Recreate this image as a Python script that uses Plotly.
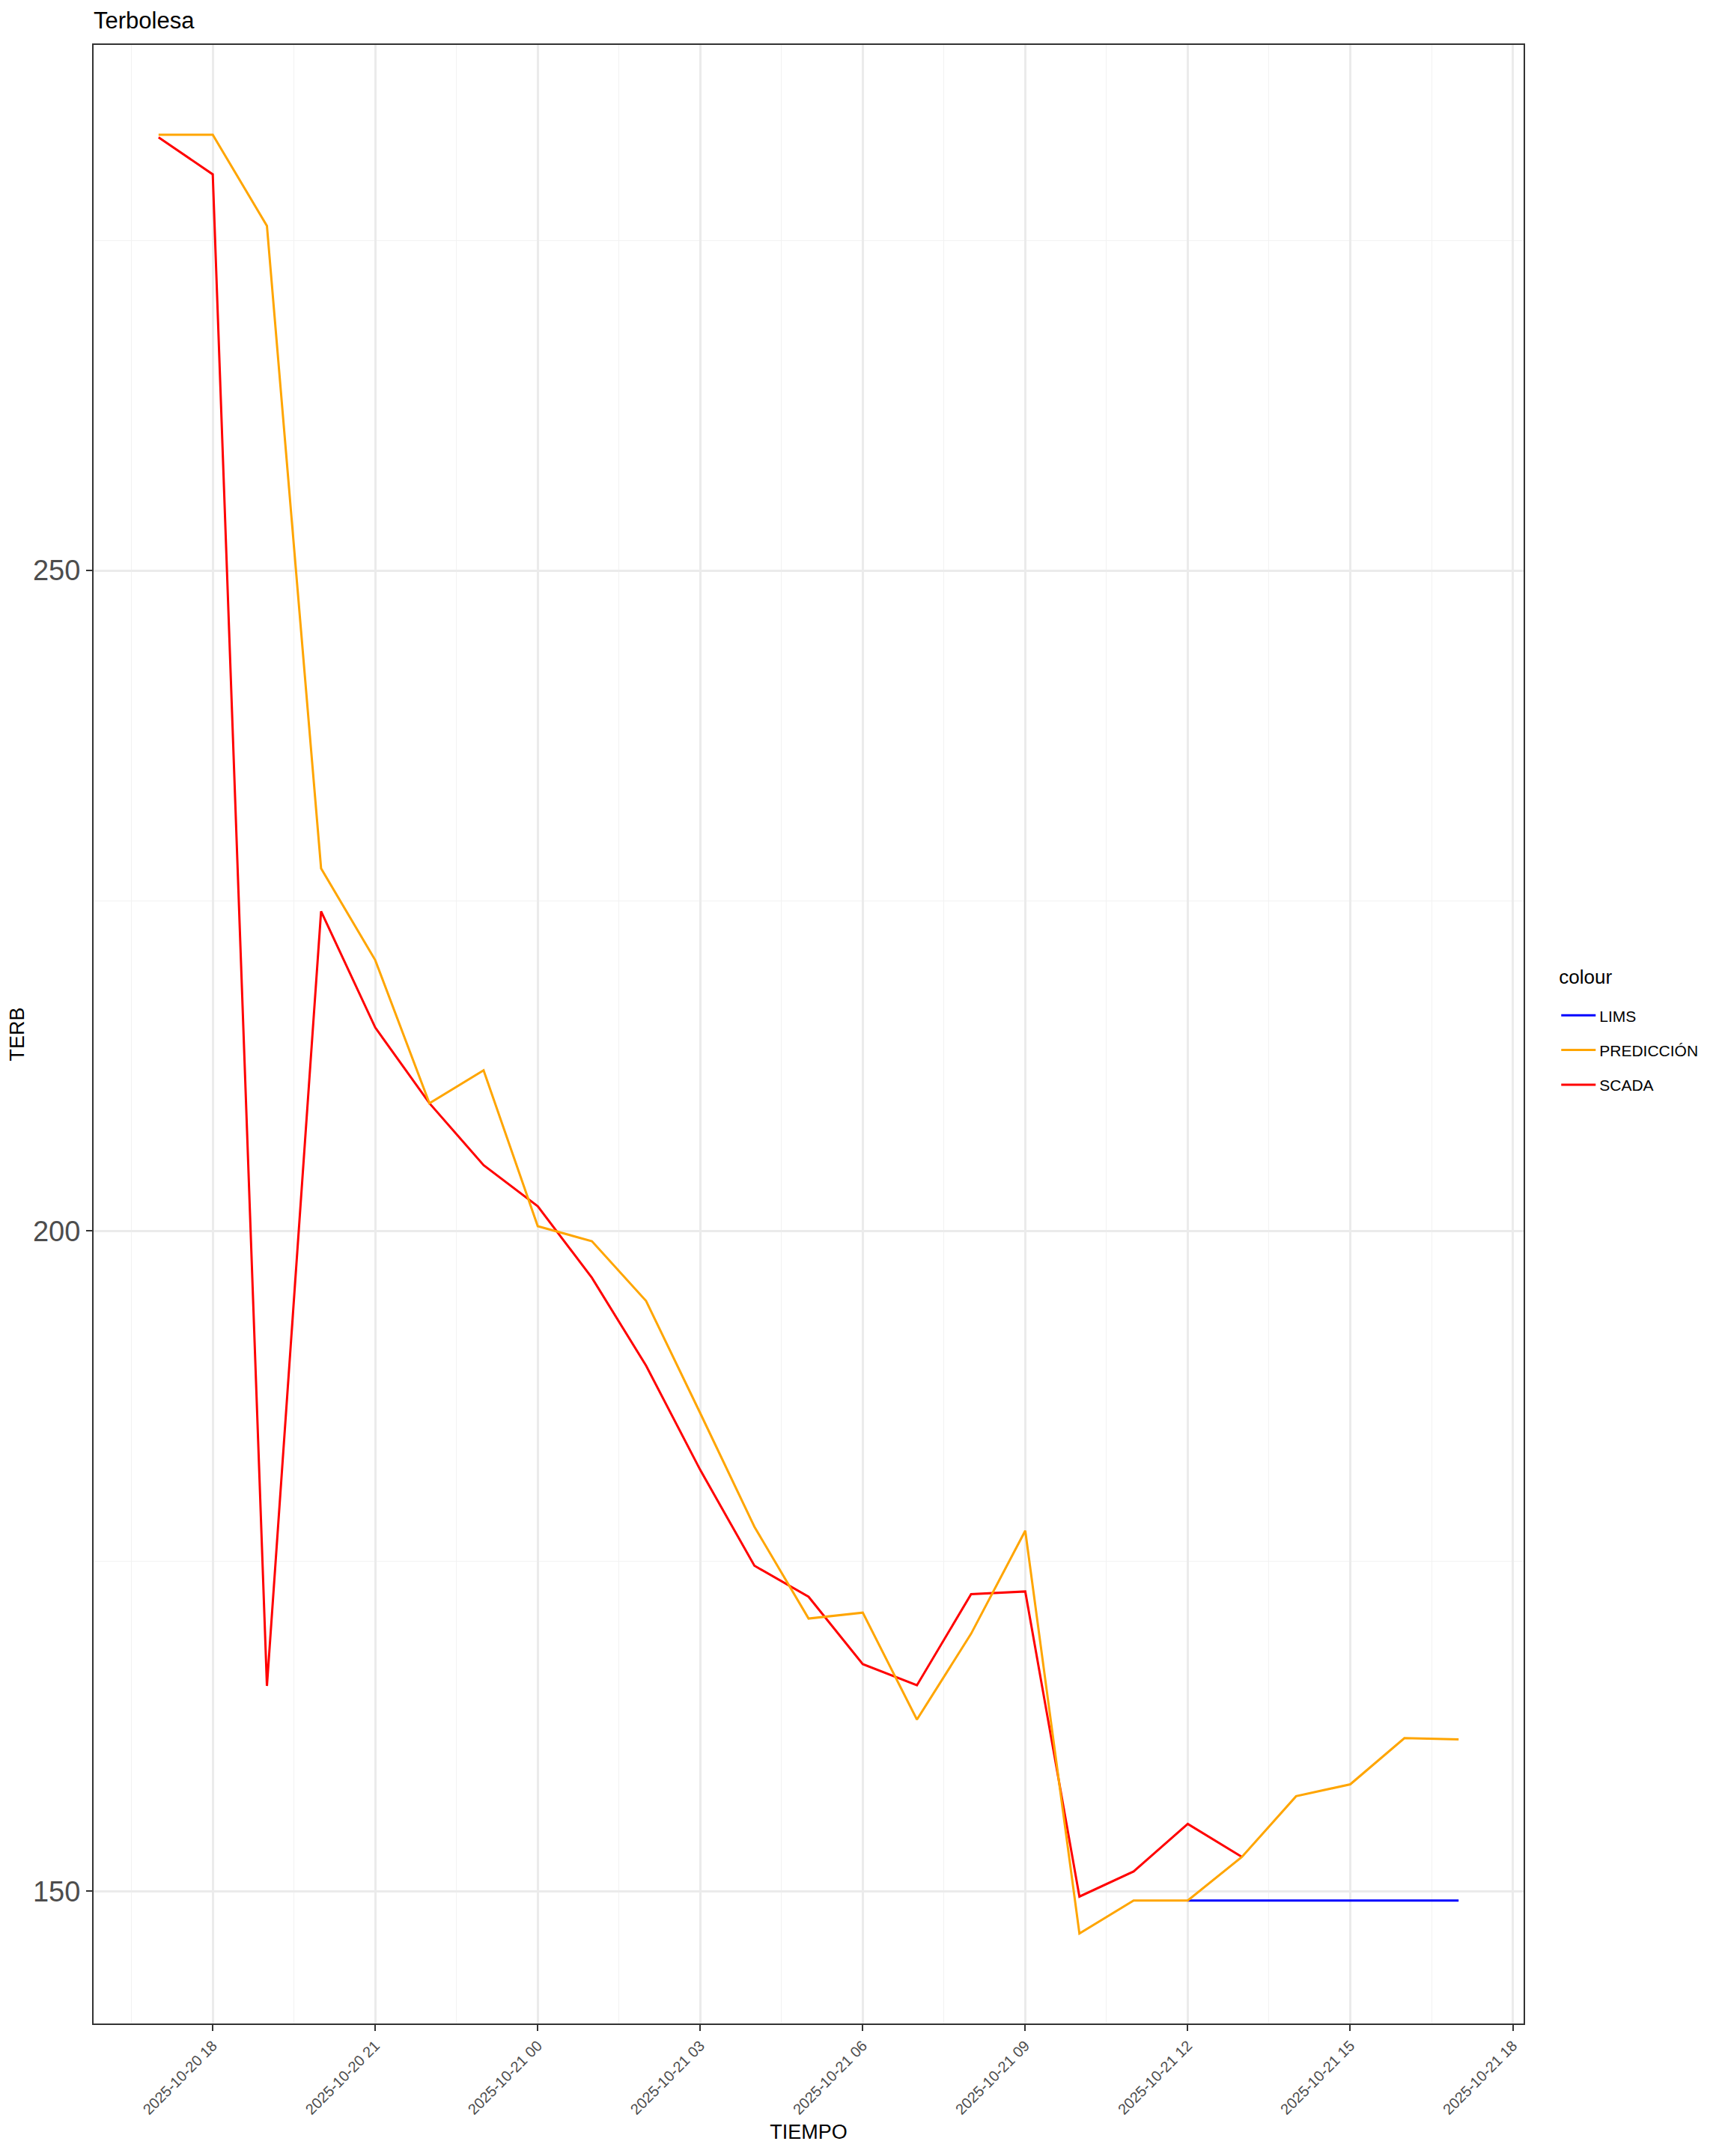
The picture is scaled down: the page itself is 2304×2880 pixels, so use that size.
import plotly.graph_objects as go

# ---- data ----
times = [
    "2025-10-20 17:00", "2025-10-20 18:00", "2025-10-20 19:00", "2025-10-20 20:00",
    "2025-10-20 21:00", "2025-10-20 22:00", "2025-10-20 23:00", "2025-10-21 00:00",
    "2025-10-21 01:00", "2025-10-21 02:00", "2025-10-21 03:00", "2025-10-21 04:00",
    "2025-10-21 05:00", "2025-10-21 06:00", "2025-10-21 07:00", "2025-10-21 08:00",
    "2025-10-21 09:00", "2025-10-21 10:00", "2025-10-21 11:00", "2025-10-21 12:00",
    "2025-10-21 13:00", "2025-10-21 14:00", "2025-10-21 15:00", "2025-10-21 16:00",
    "2025-10-21 17:00",
]
prediccion = [283.0, 283.0, 276.1, 227.45, 220.5, 209.67, 212.16, 200.36, 199.22, 194.7,
              186.2, 177.6, 170.65, 171.1, 163.0, 169.5, 177.3, 146.8, 149.3, 149.3,
              152.6, 157.2, 158.1, 161.6, 161.5]
scada_times = times[:21]
scada = [282.8, 280.0, 165.55, 224.2, 215.4, 209.67, 204.98, 201.87, 196.45, 189.8,
         181.9, 174.65, 172.3, 167.2, 165.6, 172.5, 172.7, 149.6, 151.5, 155.1, 152.6]
lims_times = times[19:]
lims = [149.3, 149.3, 149.3, 149.3, 149.3, 149.3]

y_ticks = [150, 200, 250]
x_range = ["2025-10-20 15:48", "2025-10-21 18:12"]
y_range = [139.99, 289.8]

FONT = "Liberation Sans, Arial, sans-serif"
W, H = 2304, 2880
OFF = 8  # page body margin
L, R, T, B = 125 - OFF, 269 + OFF, 60 - OFF, 177 + OFF

fig = go.Figure()
fig.add_trace(go.Scatter(x=lims_times, y=lims, mode="lines", name="LIMS",
                         line=dict(color="#0000FF", width=3), legendrank=1,
                         legendgroup="a"))
fig.add_trace(go.Scatter(x=scada_times, y=scada, mode="lines", name="SCADA",
                         line=dict(color="#FF0000", width=3), legendrank=3,
                         legendgroup="c"))
fig.add_trace(go.Scatter(x=times, y=prediccion, mode="lines", name="PREDICCIÓN",
                         line=dict(color="#FFA500", width=3), legendrank=2,
                         legendgroup="b"))

fig.update_layout(
    width=W, height=H,
    margin=dict(l=L, r=R, t=T, b=B, autoexpand=False),
    paper_bgcolor="white", plot_bgcolor="white",
    font=dict(family=FONT, color="#000000"),
    title=dict(text="Terbolesa", x=(125 - OFF) / W, xanchor="left", xref="container",
               y=1 - (27 - OFF) / H, yanchor="middle", yref="container",
               font=dict(size=31, color="#000000")),
    showlegend=True,
    legend=dict(
        title=dict(text="<span style='font-size:26px'>colour</span><br>"
                        "<span style='font-size:3px'>&nbsp;</span>",
                   font=dict(size=17, color="#000000")),
        font=dict(size=21, color="#000000"),
        x=1.0237, xanchor="left", y=0.5002, yanchor="middle",
        xref="paper", yref="paper",
        tracegroupgap=16, itemwidth=46,
        bgcolor="rgba(0,0,0,0)",
    ),
    xaxis=dict(
        type="date", range=x_range,
        tick0="2025-10-20 00:00", dtick=3 * 3600 * 1000,
        tickformat="%Y-%m-%d %H", tickangle=-45,
        tickfont=dict(size=20, color="#4D4D4D"),
        ticks="outside", ticklen=8, tickwidth=2, tickcolor="#333333",
        showgrid=True, gridcolor="#EBEBEB", gridwidth=2.5,
        minor=dict(dtick=1.5 * 3600 * 1000, tick0="2025-10-20 00:00",
                   showgrid=True, gridcolor="#F2F2F2", gridwidth=1.3, ticks=""),
        showline=True, linecolor="#333333", linewidth=2, mirror=True,
        zeroline=False, automargin=False,
        title=dict(text="TIEMPO", font=dict(size=27, color="#000000"), standoff=10),
    ),
    yaxis=dict(
        range=y_range, tickvals=y_ticks,
        tickfont=dict(size=38, color="#4D4D4D"),
        ticks="outside", ticklen=8, tickwidth=2, tickcolor="#333333",
        showgrid=True, gridcolor="#EBEBEB", gridwidth=2.5,
        minor=dict(tickvals=[175, 225, 275], showgrid=True, gridcolor="#F2F2F2",
                   gridwidth=1.3, ticks=""),
        showline=True, linecolor="#333333", linewidth=2, mirror=True,
        zeroline=False, automargin=False,
        title=dict(text="TERB", font=dict(size=27, color="#000000"), standoff=8),
    ),
)

fig.write_html("out.html")
